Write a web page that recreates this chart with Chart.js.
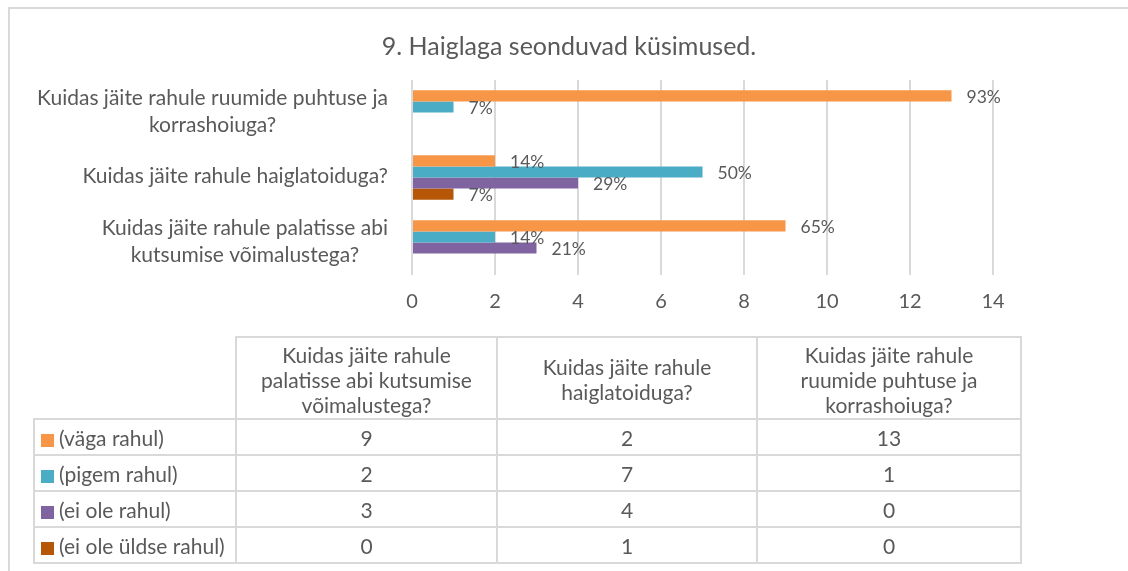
<!DOCTYPE html>
<html>
<head>
<meta charset="utf-8">
<script src="https://cdn.jsdelivr.net/npm/chart.js@4.4.1/dist/chart.umd.min.js"></script>
<style>
  html, body { margin: 0; padding: 0; background: #fff; overflow: hidden; }
  body { width: 1128px; height: 571px; position: relative; font-family: Lato, sans-serif; color: #595959; }
  #frame { position: absolute; left: 8px; top: 7px; width: 1200px; height: 700px; border: 2px solid #d9d9d9; box-sizing: border-box; }
  #chartBox { position: absolute; left: 0; top: 0; width: 1128px; height: 340px; }
  #dataTable { position: absolute; left: 33px; top: 336px; border-collapse: collapse; table-layout: fixed; font-size: 21px; color: #595959; }
  #dataTable td, #dataTable th { border: 2px solid #d9d9d9; text-align: center; font-weight: normal; padding: 0 16px; line-height: 25px; }
  #dataTable thead th { height: 78px; padding-top: 2px; }
  #dataTable tbody td { height: 34px; padding: 0; }
  #dataTable thead th.blank { border-top: none; border-left: none; }
  #dataTable tbody td.label { text-align: left; padding: 0 0 0 6px; white-space: nowrap; }
  .swatch { display: inline-block; width: 13px; height: 13px; margin-right: 5px; vertical-align: -1px; }
</style>
</head>
<body>
<div id="frame"></div>
<div id="chartBox"><canvas id="chart"></canvas></div>
<table id="dataTable"></table>

<script>
// questions, in the order of the data table (the chart shows them bottom to top)
const questions = [
  "Kuidas jäite rahule palatisse abi kutsumise võimalustega?",
  "Kuidas jäite rahule haiglatoiduga?",
  "Kuidas jäite rahule ruumide puhtuse ja korrashoiuga?"
];
const axisLines = [
  ["Kuidas jäite rahule palatisse abi", "kutsumise võimalustega?"],
  ["Kuidas jäite rahule haiglatoiduga?"],
  ["Kuidas jäite rahule ruumide puhtuse ja", "korrashoiuga?"]
];
const chartTitle = "9. Haiglaga seonduvad küsimused.";

const seriesNames = ["(väga rahul)", "(pigem rahul)", "(ei ole rahul)", "(ei ole üldse rahul)"];
const seriesColors = ["#F79646", "#4BACC6", "#8064A2", "#B65708"];

const vagaRahul = [9, 2, 13];
const pigemRahul = [2, 7, 1];
const eiOleRahul = [3, 4, 0];
const eiOleYldseRahul = [0, 1, 0];

// percentage labels as printed next to the bars
const vagaRahulPct = ["65%", "14%", "93%"];
const pigemRahulPct = ["14%", "50%", "7%"];
const eiOleRahulPct = ["21%", "29%", ""];
const eiOleYldseRahulPct = ["", "7%", ""];

const xTicks = [0, 2, 4, 6, 8, 10, 12, 14];

const seriesValues = [vagaRahul, pigemRahul, eiOleRahul, eiOleYldseRahul];
const seriesPct = [vagaRahulPct, pigemRahulPct, eiOleRahulPct, eiOleYldseRahulPct];

const textColor = "#595959";
const fontFamily = "Lato, sans-serif";

// title centred over the whole chart, not just the plot
const titlePlugin = {
  id: "titlePlugin",
  afterDraw(chart) {
    const ctx = chart.ctx;
    ctx.save();
    ctx.font = `25px ${fontFamily}`;
    ctx.fillStyle = textColor;
    ctx.textAlign = "center";
    ctx.textBaseline = "middle";
    ctx.fillText(chartTitle, chart.width / 2 + 5, 47);
    ctx.restore();
  }
};

// data labels to the right of each bar
const pctLabels = {
  id: "pctLabels",
  afterDatasetsDraw(chart) {
    const ctx = chart.ctx;
    ctx.save();
    ctx.font = `17.5px ${fontFamily}`;
    ctx.fillStyle = textColor;
    ctx.textAlign = "left";
    ctx.textBaseline = "middle";
    chart.data.datasets.forEach((ds, di) => {
      const meta = chart.getDatasetMeta(di);
      meta.data.forEach((bar, i) => {
        const txt = seriesPct[di][i];
        if (!txt) return;
        ctx.fillText(txt, bar.x + 15, bar.y + 1.5);
      });
    });
    ctx.restore();
  }
};

// category labels: block right aligned to the axis, lines centred inside it
const categoryLabels = {
  id: "categoryLabels",
  afterDraw(chart) {
    const ctx = chart.ctx;
    const yScale = chart.scales.y;
    const right = chart.chartArea.left - 24;
    const lineH = 27;
    ctx.save();
    ctx.font = `21px ${fontFamily}`;
    ctx.fillStyle = textColor;
    ctx.textAlign = "center";
    ctx.textBaseline = "middle";
    axisLines.forEach((lines, i) => {
      const y = yScale.getPixelForValue(i);
      const w = Math.max(...lines.map(l => ctx.measureText(l).width));
      const cx = right - w / 2;
      lines.forEach((l, j) => {
        ctx.fillText(l, cx, y + (j - (lines.length - 1) / 2) * lineH - 1);
      });
    });
    ctx.restore();
  }
};

new Chart(document.getElementById("chart"), {
  type: "bar",
  data: {
    labels: questions,
    datasets: seriesNames.map((name, i) => ({
      label: name,
      data: seriesValues[i],
      backgroundColor: seriesColors[i],
      borderWidth: 0,
      categoryPercentage: 0.683,
      barPercentage: 1.0
    }))
  },
  options: {
    indexAxis: "y",
    responsive: true,
    maintainAspectRatio: false,
    animation: false,
    layout: { padding: { top: 80, left: 0, right: 135, bottom: 11 } },
    plugins: {
      legend: { display: false },
      tooltip: { enabled: false },
      title: { display: false }
    },
    scales: {
      x: {
        min: 0,
        max: 14,
        afterBuildTicks: s => { s.ticks = xTicks.map(v => ({ value: v })); },
        ticks: { color: textColor, font: { family: fontFamily, size: 20 }, padding: 15 },
        grid: { color: "#d9d9d9", lineWidth: 2, drawTicks: false },
        border: { display: false }
      },
      y: {
        reverse: true,
        grid: { display: false },
        border: { display: false },
        ticks: { display: false },
        afterFit: s => { s.width = 412; }
      }
    }
  },
  plugins: [titlePlugin, pctLabels, categoryLabels]
});

// data table under the chart
const table = document.getElementById("dataTable");
const colWidths = [202, 261, 260, 264];
let html = "<colgroup>" + colWidths.map(w => `<col style="width:${w}px">`).join("") + "</colgroup>";
html += "<thead><tr><th class=\"blank\"></th>" + questions.map(q => `<th>${q}</th>`).join("") + "</tr></thead><tbody>";
seriesNames.forEach((name, i) => {
  html += `<tr><td class="label"><span class="swatch" style="background:${seriesColors[i]}"></span>${name}</td>`;
  html += seriesValues[i].map(v => `<td>${v}</td>`).join("") + "</tr>";
});
html += "</tbody>";
table.innerHTML = html;
</script>
</body>
</html>
